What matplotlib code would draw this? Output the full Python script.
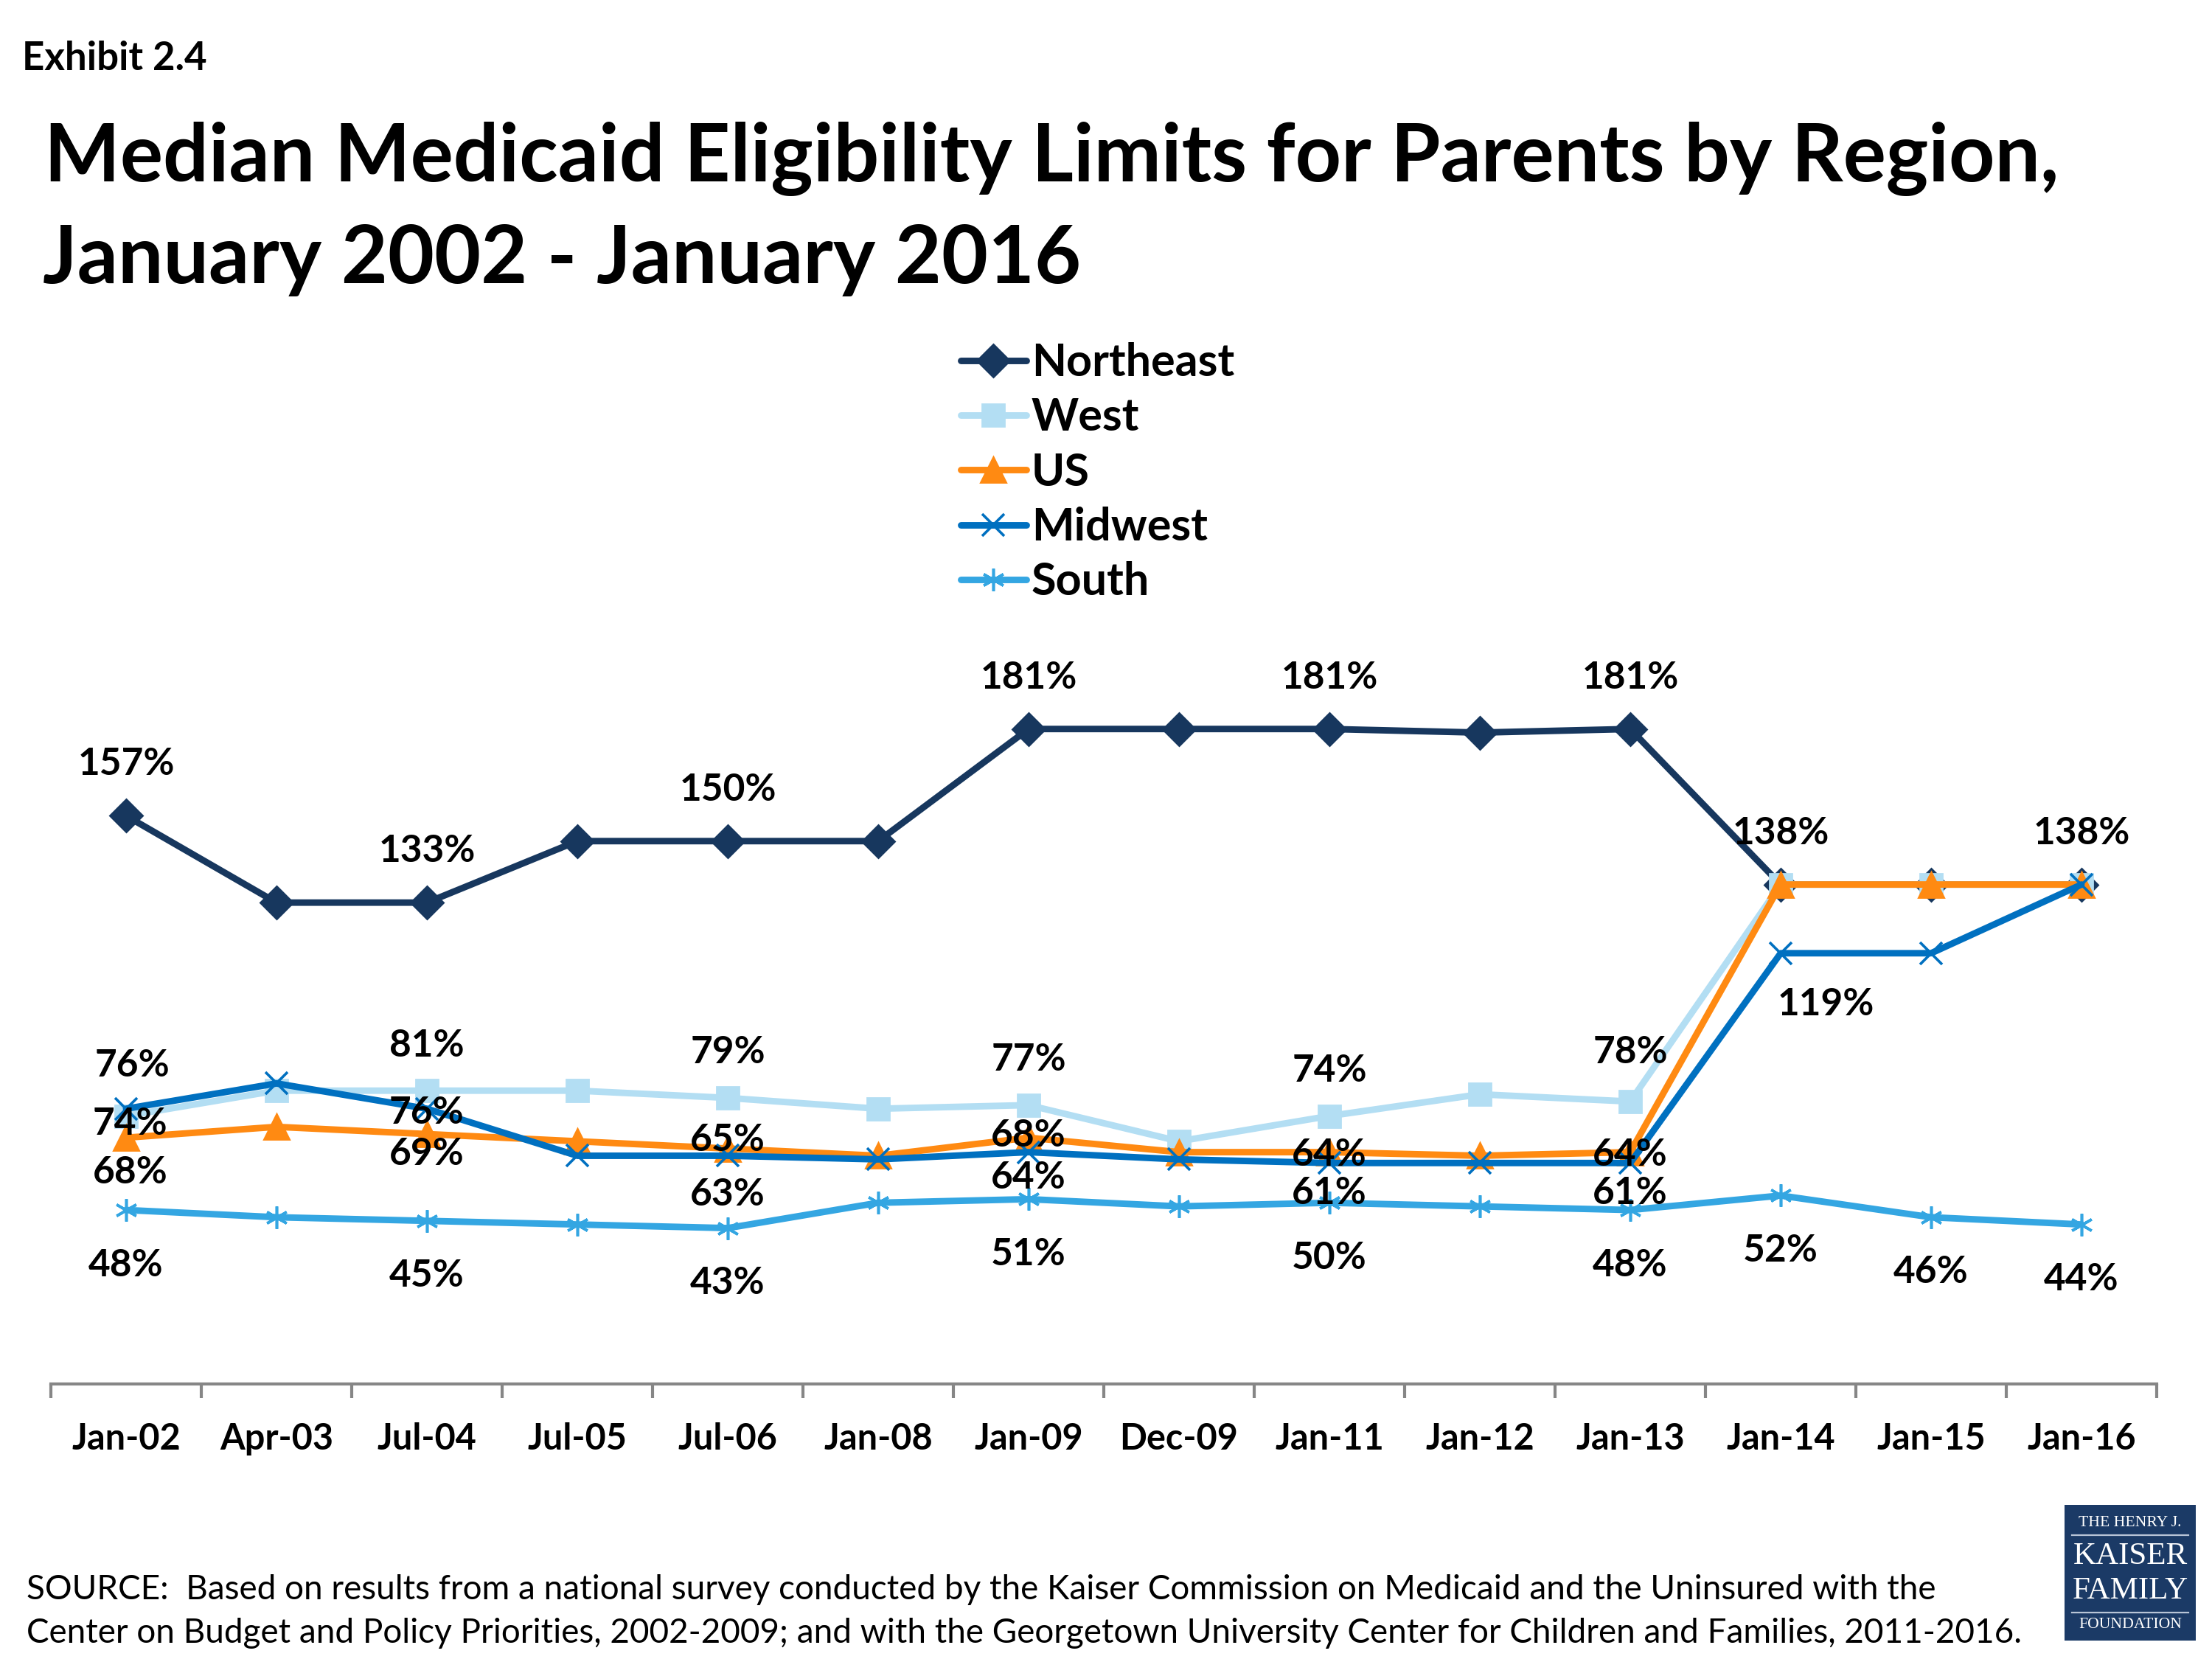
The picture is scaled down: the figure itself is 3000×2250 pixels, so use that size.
import matplotlib
matplotlib.use('Agg')
import matplotlib.pyplot as plt
from matplotlib.patches import Rectangle
from matplotlib.lines import Line2D

plt.rcParams['font.family'] = ['Lato', 'DejaVu Sans']

dates = ['Jan-02', 'Apr-03', 'Jul-04', 'Jul-05', 'Jul-06', 'Jan-08', 'Jan-09',
         'Dec-09', 'Jan-11', 'Jan-12', 'Jan-13', 'Jan-14', 'Jan-15', 'Jan-16']
northeast = [157, 133, 133, 150, 150, 150, 181, 181, 181, 180, 181, 138, 138, 138]
west = [74, 81, 81, 81, 79, 76, 77, 67, 74, 80, 78, 138, 138, 138]
us = [68, 71, 69, 67, 65, 63, 68, 64, 64, 63, 64, 138, 138, 138]
midwest = [76, 83, 76, 63, 63, 62, 64, 62, 61, 61, 61, 119, 119, 138]
south = [48, 46, 45, 44, 43, 50, 51, 49, 50, 49, 48, 52, 46, 44]

# which points carry a data label
ne_labels = [0, 2, 4, 6, 8, 10, 11, 13]
west_labels = [0, 2, 4, 6, 8, 10]
us_labels = [0, 2, 4, 6, 8, 10]
mw_labels = [0, 2, 4, 6, 8, 10, 11]
south_labels = [0, 2, 4, 6, 8, 10, 11, 12, 13]

# label offsets in points (dx, dy), hand placed like in the original
ne_off = {i: (0, 25) for i in ne_labels}
west_off = {0: (2, -4), 2: (0, 22), 4: (0, 22), 6: (0, 22), 8: (0, 22), 10: (0, 24)}
us_off = {0: (2, -17), 2: (0, -10), 4: (0, 4), 6: (0, 1), 8: (0, -1.5), 10: (0, -1.5)}
mw_off = {0: (3, 21), 2: (0, -2), 4: (0, -19), 6: (0, -12.5), 8: (0, -15), 10: (0, -15), 11: (22, -25)}
south_off = {i: (0, -27) for i in south_labels}

c_ne = '#17375E'
c_west = '#B3DEF3'
c_us = '#FF8A12'
c_mw = '#0070C0'
c_south = '#34A6E2'

fig = plt.figure(figsize=(15, 11.25), dpi=200)
ax = fig.add_axes([0.023, 0.166, 0.952, 0.436])
x = list(range(len(dates)))

series = [
    ('Northeast', northeast, c_ne, 'D', 11, 1.0, ne_labels, ne_off),
    ('West', west, c_west, 's', 11, 1.0, west_labels, west_off),
    ('US', us, c_us, '^', 12, 1.0, us_labels, us_off),
    ('Midwest', midwest, c_mw, 'x', 11, 1.3, mw_labels, mw_off),
    ('South', south, c_south, (6, 2, 0), 11, 1.3, south_labels, south_off),
]
handles = []
for name, vals, col, mk, ms, mew, labs, offs in series:
    ln, = ax.plot(x, vals, color=col, lw=3.2, marker=mk, markersize=ms,
                  markeredgewidth=mew, markeredgecolor=col, markerfacecolor=col,
                  solid_capstyle='round', solid_joinstyle='round', label=name)
    handles.append(ln)
for name, vals, col, mk, ms, mew, labs, offs in series:
    for i in labs:
        dx, dy = offs[i]
        ax.annotate(f'{vals[i]}%', (x[i], vals[i]), xytext=(dx, dy),
                    textcoords='offset points', ha='center', va='center',
                    fontsize=18.5, fontweight='bold', color='black', zorder=10)

ax.set_xlim(-0.5, len(dates) - 0.5)
ax.set_ylim(0, 200)
for s in ['left', 'right', 'top']:
    ax.spines[s].set_visible(False)
ax.spines['bottom'].set_color('#868686')
ax.spines['bottom'].set_linewidth(1.5)
ax.set_yticks([])
ax.set_xticks([i - 0.5 for i in range(len(dates) + 1)])
ax.set_xticklabels([])
ax.tick_params(axis='x', which='major', length=7, width=1.5, color='#868686', direction='out')
ax.set_xticks(x, minor=True)
ax.set_xticklabels(dates, minor=True, fontsize=17.5, fontweight='bold')
ax.tick_params(axis='x', which='minor', length=0, pad=19)

leg = fig.legend(handles=handles, loc='upper left', bbox_to_anchor=(1303 / 3000, 1 - 464 / 2250),
                 frameon=False, fontsize=22, handlelength=1.45, handletextpad=0.12,
                 labelspacing=0.30, borderpad=0, borderaxespad=0)
for t in leg.get_texts():
    t.set_fontweight('bold')

fig.text(30 / 3000, 1 - 95 / 2250, 'Exhibit 2.4', fontsize=19, fontweight='bold', va='baseline')
fig.text(60 / 3000, 1 - 246 / 2250, 'Median Medicaid Eligibility Limits for Parents by Region,',
         fontsize=39.2, fontweight='bold', va='baseline')
fig.text(58 / 3000, 1 - 384 / 2250, 'January 2002 - January 2016',
         fontsize=39.2, fontweight='bold', va='baseline')

fig.text(36 / 3000, 1 - 2169 / 2250,
         'SOURCE:  Based on results from a national survey conducted by the Kaiser Commission on Medicaid and the Uninsured with the',
         fontsize=16.5, va='baseline')
fig.text(36 / 3000, 1 - 2228 / 2250,
         'Center on Budget and Policy Priorities, 2002-2009; and with the Georgetown University Center for Children and Families, 2011-2016.',
         fontsize=16.5, va='baseline')

# Kaiser logo box
navy = '#1B3A66'
fig.add_artist(Rectangle((2800 / 3000, 1 - 2225 / 2250), 178 / 3000, 184 / 2250,
                         transform=fig.transFigure, facecolor=navy, edgecolor='none'))
lx = 2889 / 3000
serif = ['Liberation Serif', 'DejaVu Serif']
fig.text(lx, 1 - 2065 / 2250, 'THE HENRY J.', family=serif, fontsize=7.8, color='white', ha='center', va='center')
fig.text(lx, 1 - 2111 / 2250, 'KAISER', family=serif, fontsize=15.5, color='white', ha='center', va='center')
fig.text(lx, 1 - 2158 / 2250, 'FAMILY', family=serif, fontsize=15.5, color='white', ha='center', va='center')
fig.text(lx, 1 - 2204 / 2250, 'FOUNDATION', family=serif, fontsize=7.8, color='white', ha='center', va='center')
for yy in [2082, 2187]:
    fig.add_artist(Line2D([2810 / 3000, 2968 / 3000], [1 - yy / 2250, 1 - yy / 2250],
                          transform=fig.transFigure, color='#B8C4D6', lw=0.8))

fig.savefig('out.png', dpi=200)
